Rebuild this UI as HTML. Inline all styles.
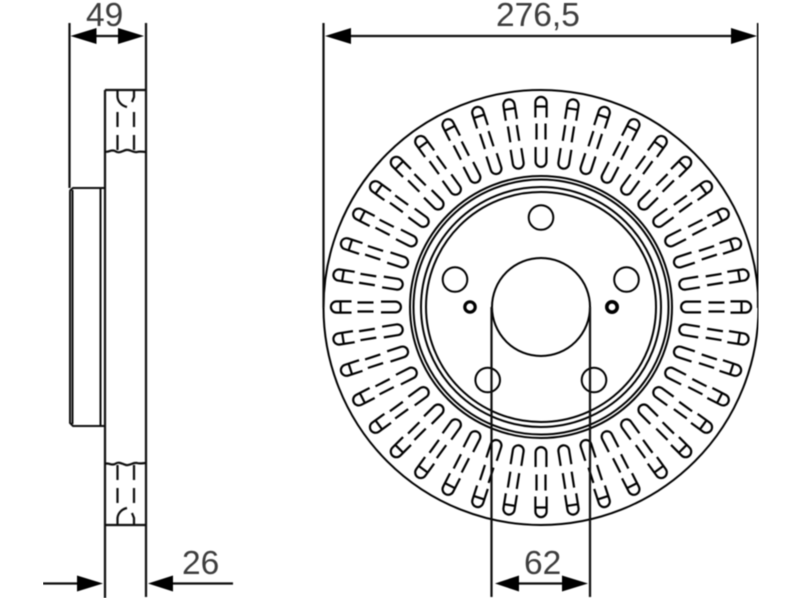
<!DOCTYPE html>
<html><head><meta charset="utf-8"><title>Brake disc</title>
<style>html,body{margin:0;padding:0;background:#fff}svg{display:block}text{font-family:"Liberation Sans",Arial,sans-serif;font-size:33.5px;fill:#3c3c3c}</style>
</head><body>
<svg width="800" height="600" viewBox="0 0 800 600" xmlns="http://www.w3.org/2000/svg">
<defs>
<filter id="b" x="0" y="0" width="100%" height="100%"><feGaussianBlur stdDeviation="0.5"/></filter>
<g id="v" fill="none" stroke="#000" stroke-width="2.2" stroke-linecap="butt">
<path d="M-5.6 -189.5V-204.5A5.6 5.6 0 0 1 5.6 -204.5V-189.5M-5.6 -200.5H5.6"/>
<path d="M-4.5 -183.5V-167.5M4.5 -183.5V-167.5"/>
<path d="M-5.4 -160V-145.5A5.4 5.4 0 0 0 5.4 -145.5V-160"/>
</g>
</defs>
<rect width="800" height="600" fill="#fff"/>
<g filter="url(#b)">
<g transform="translate(541 307)">
<use href="#v"/><use href="#v" transform="rotate(9)"/><use href="#v" transform="rotate(18)"/><use href="#v" transform="rotate(27)"/><use href="#v" transform="rotate(36)"/><use href="#v" transform="rotate(45)"/><use href="#v" transform="rotate(54)"/><use href="#v" transform="rotate(63)"/><use href="#v" transform="rotate(72)"/><use href="#v" transform="rotate(81)"/><use href="#v" transform="rotate(90)"/><use href="#v" transform="rotate(99)"/><use href="#v" transform="rotate(108)"/><use href="#v" transform="rotate(117)"/><use href="#v" transform="rotate(126)"/><use href="#v" transform="rotate(135)"/><use href="#v" transform="rotate(144)"/><use href="#v" transform="rotate(153)"/><use href="#v" transform="rotate(162)"/><use href="#v" transform="rotate(171)"/><use href="#v" transform="rotate(180)"/><use href="#v" transform="rotate(189)"/><use href="#v" transform="rotate(198)"/><use href="#v" transform="rotate(207)"/><use href="#v" transform="rotate(216)"/><use href="#v" transform="rotate(225)"/><use href="#v" transform="rotate(234)"/><use href="#v" transform="rotate(243)"/><use href="#v" transform="rotate(252)"/><use href="#v" transform="rotate(261)"/><use href="#v" transform="rotate(270)"/><use href="#v" transform="rotate(279)"/><use href="#v" transform="rotate(288)"/><use href="#v" transform="rotate(297)"/><use href="#v" transform="rotate(306)"/><use href="#v" transform="rotate(315)"/><use href="#v" transform="rotate(324)"/><use href="#v" transform="rotate(333)"/><use href="#v" transform="rotate(342)"/><use href="#v" transform="rotate(351)"/>
</g>
<g fill="none" stroke="#000" stroke-width="2">
<circle cx="541" cy="307.5" r="217.5"/>
<circle cx="541" cy="307" r="131"/>
<circle cx="541" cy="307" r="127.5"/>
<circle cx="541" cy="307" r="120"/>
<circle cx="541" cy="307" r="115"/>
<circle cx="541" cy="307" r="49"/>
<circle cx="541" cy="217.5" r="12.3"/>
<circle cx="455" cy="279.5" r="12.3"/>
<circle cx="626.5" cy="279.5" r="12.3"/>
<circle cx="487.7" cy="380" r="12.3"/>
<circle cx="594" cy="380" r="12.3"/>
<circle cx="470" cy="307" r="5.2" stroke-width="3.2"/>
<circle cx="612" cy="307" r="5.2" stroke-width="3.6"/>
</g>
<g fill="none" stroke="#111" stroke-width="2.2">
<path d="M491.5 307V597M590 307V597"/>
<path d="M323.5 23V308M758 23V308"/>
<path d="M350 36H731"/>
<path d="M69.5 23V188M146 23V597M105 90V598"/>
<path d="M105 90H146M105 525H146"/>
<path d="M96 36H119"/>
<path d="M43 583.5H78M172 583.5H233"/>
<path d="M518 583.5H562"/>
<path d="M105 151.5C108 153 111 149 115 151C119 154 122 151 126 150C130 149 133 153 137 152C140 151 143 152 146 152"/>
<path d="M105 464C108 462 111 466 115 464C119 461 122 464 126 465C130 466 133 462 137 463C140 464 143 463 146 463"/>
<path d="M69.5 191L73 188H104M70 191V423L73 426H104" stroke-width="2"/>
<path d="M72.5 190V424" stroke-width="2"/>
<path d="M100.5 189V425" stroke-width="2"/>
</g>
<g fill="none" stroke="#111" stroke-width="2.2">
<path d="M117.5 112V127M117.5 135V150M134 112V127M134 135V150"/>
<path d="M117.5 465V480M117.5 488V503M134 465V480M134 488V503"/>
<path d="M117.5 90V97C118 102 122 106 127 107M134 91V97L132 102"/>
<path d="M117.5 525V518C118 513 122 509 127 508M134 524V518L132 513"/>
</g>
<g fill="#000">
<path d="M70.5 36L96.5 28V44Z"/>
<path d="M144 36L118 28V44Z"/>
<path d="M325 36L351 28V44Z"/>
<path d="M757 36L731 28V44Z"/>
<path d="M103 583.5L77 575.5V591.5Z"/>
<path d="M148 583.5L173 575.5V591.5Z"/>
<path d="M495 583.5L519 575.5V591.5Z"/>
<path d="M588 583.5L562 575.5V591.5Z"/>
</g>
<text x="86" y="26">49</text>
<text x="496" y="26">276,5</text>
<text x="182" y="574">26</text>
<text x="524" y="574">62</text>
</g>
</svg>
</body></html>
